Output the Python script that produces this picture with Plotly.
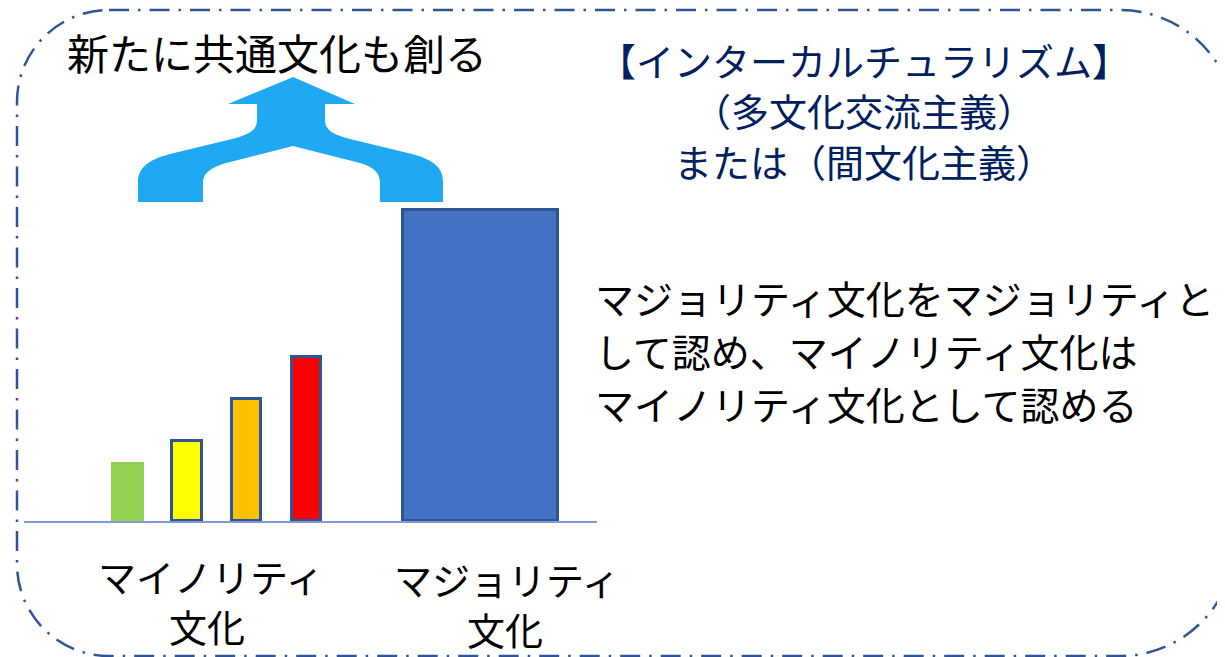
import plotly.graph_objects as go

# ---- data ----
bar_names = ["マイノリティ1", "マイノリティ2", "マイノリティ3", "マイノリティ4", "マジョリティ"]
bar_pos = [1, 2, 3, 4, 6.91]
bar_values = [1.9, 2.57, 3.92, 5.25, 10.0]
bar_widths = [0.56, 0.49, 0.49, 0.49, 2.6]
bar_colors = ["#92d050", "#ffff00", "#ffc000", "#ff0000", "#4472c4"]
bar_line_colors = ["#92d050", "#2f5597", "#2f5597", "#2f5597", "#2f5597"]
bar_line_widths = [0, 3, 3, 3, 3]

group_labels = ["マイノリティ", "文化", "マジョリティ", "文化"]
title_text = "新たに共通文化も創る"
header_lines = ["【インターカルチュラリズム】", "（多文化交流主義）", "または（間文化主義）"]
body_lines = ["マジョリティ文化をマジョリティと", "して認め、マイノリティ文化は", "マイノリティ文化として認める"]

W, H = 1225, 657
OFF = 8                     # page body margin
FW, FH = W - OFF, H - OFF   # figure size
FONT = "Noto Sans CJK JP"

# bar subplot geometry (page pixels)
base_px = 521
top_px = 177
left_px, right_px = 24, 597
px_per_unit_y = 31.15
px_per_unit_x = 59.7
x_lo = bar_pos[0] - (127.3 - left_px) / px_per_unit_x
x_hi = x_lo + (right_px - left_px) / px_per_unit_x

fig = go.Figure()
fig.add_trace(go.Bar(
    x=bar_pos, y=bar_values, width=bar_widths, name="",
    text=bar_names, hoverinfo="text", textposition="none",
    marker=dict(color=bar_colors, line=dict(color=bar_line_colors, width=bar_line_widths)),
    xaxis="x2", yaxis="y2", showlegend=False,
))

shapes = []
arrow = ("M 138,202 L 138,182 C 138,168 148,160 170,154 L 232,139 C 250,134 257,130 257,120 "
         "L 257,104 L 228,104 L 293,77 L 355,104 L 325,104 L 325,120 C 325,130 332,134 350,139 "
         "L 412,154 C 434,160 443,168 443,182 L 443,202 L 380,202 L 380,183 C 380,172 373,167 360,163 "
         "L 293,146 L 226,163 C 213,167 203,172 203,183 L 203,202 Z")
shapes.append(dict(type="path", path=arrow, xref="x", yref="y",
                   fillcolor="#20a9f3", line=dict(width=0), layer="below"))

L, T, R, B = 17, 10, 1235, 656
rl, rr = 92, 115
k = 0.5523
border = (f"M {L+rl},{T} L {R-rr},{T} "
          f"C {R-rr+k*rr},{T} {R},{T+rr-k*rr} {R},{T+rr} "
          f"L {R},{B-rr} "
          f"C {R},{B-rr+k*rr} {R-rr+k*rr},{B} {R-rr},{B} "
          f"L {L+rl},{B} "
          f"C {L+rl-k*rl},{B} {L},{B-rl+k*rl} {L},{B-rl} "
          f"L {L},{T+rl} "
          f"C {L},{T+rl-k*rl} {L+rl-k*rl},{T} {L+rl},{T} Z")
shapes.append(dict(type="path", path=border, xref="x", yref="y",
                   line=dict(color="#2f5597", width=2.5, dash="20px,9px,2.5px,9px")))


def note(txt, x, y, size, color="#000000", xanchor="center"):
    return dict(text=txt, x=x, y=y, xref="x", yref="y", xanchor=xanchor, yanchor="middle",
                showarrow=False, borderpad=0, font=dict(family=FONT, size=size, color=color))


annotations = [note(title_text, 66, 51, 42, xanchor="left")]
for txt, yy in zip(header_lines, [59, 109.5, 160]):
    annotations.append(note(txt, 864, yy, 38, "#002060"))
for txt, yy in zip(body_lines, [297, 350, 403]):
    annotations.append(note(txt, 594, yy, 39, xanchor="left"))
for txt, xx, yy in zip(group_labels, [211, 207, 507, 505], [575, 625, 578, 628]):
    annotations.append(note(txt, xx, yy, 38))

fig.update_layout(
    width=FW, height=FH,
    margin=dict(l=0, r=0, t=0, b=0),
    paper_bgcolor="white", plot_bgcolor="rgba(0,0,0,0)",
    xaxis=dict(range=[OFF, W], visible=False, domain=[0, 1], fixedrange=True),
    yaxis=dict(range=[H, OFF], visible=False, domain=[0, 1], fixedrange=True),
    xaxis2=dict(domain=[(left_px - OFF) / FW, (right_px - OFF) / FW], range=[x_lo, x_hi], anchor="y2",
                showgrid=False, zeroline=False, showticklabels=False, ticks="",
                showline=True, linecolor="#7f9bd3", linewidth=2, layer="below traces"),
    yaxis2=dict(domain=[(H - base_px) / FH, (H - top_px) / FH],
                range=[0, (base_px - top_px) / px_per_unit_y], anchor="x2",
                visible=False, showgrid=False, zeroline=False),
    shapes=shapes, annotations=annotations,
    showlegend=False, bargap=0,
)

fig.write_html("out.html")
